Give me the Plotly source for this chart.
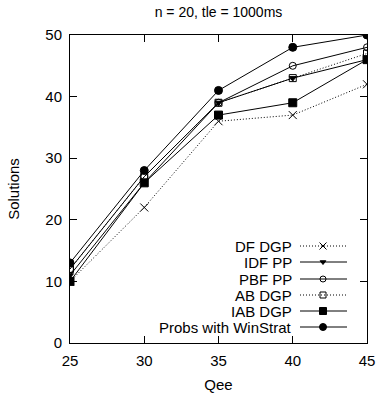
import plotly.graph_objects as go

qee = [25, 30, 35, 40, 45]
df_dgp = [10, 22, 36, 37, 42]
idf_pp = [11, 26, 39, 43, 46]
pbf_pp = [12, 27, 39, 45, 48]
ab_dgp = [12, 27, 39, 43, 47]
iab_dgp = [10, 26, 37, 39, 46]
winstrat = [13, 28, 41, 48, 50]

names = ["DF DGP", "IDF PP", "PBF PP", "AB DGP", "IAB DGP", "Probs with WinStrat"]
series = [df_dgp, idf_pp, pbf_pp, ab_dgp, iab_dgp, winstrat]
symbols = ["x-thin-open", "triangle-down", "circle-open", "square-open", "square", "circle"]
dashes = ["1px,2px", "solid", "solid", "1px,2px", "solid", "solid"]
sizes = [8, 6, 7, 7, 8, 8]

L, R, T, B = 70, 11, 35, 50
W, H = 378, 393
pw, ph = W - L - R, H - T - B

fig = go.Figure()
font = "Liberation Sans, Arial, sans-serif"
FS = 15

for nm, ys, sym, ds, sz in zip(names, series, symbols, dashes, sizes):
    fig.add_trace(go.Scatter(
        x=qee, y=ys, mode="lines+markers", name=nm, showlegend=False,
        line=dict(color="black", width=1, dash=ds),
        marker=dict(symbol=sym, size=sz, color="black",
                    line=dict(color="black", width=1)),
    ))

# gnuplot-style legend on an overlay axis
row_px = [246, 262, 279, 295, 311, 327]
for nm, sym, ds, sz, rp in zip(names, symbols, dashes, sizes, row_px):
    yy = (H - B - rp) / ph
    x0 = (300 - L) / pw
    x1 = (347 - L) / pw
    xm = (323 - L) / pw
    fig.add_trace(go.Scatter(
        x=[x0, x1], y=[yy, yy], mode="lines", xaxis="x2", yaxis="y2",
        showlegend=False, hoverinfo="skip",
        line=dict(color="black", width=1, dash=ds)))
    fig.add_trace(go.Scatter(
        x=[xm], y=[yy], mode="markers", xaxis="x2", yaxis="y2",
        showlegend=False, hoverinfo="skip",
        marker=dict(symbol=sym, size=sz - 1, color="black",
                    line=dict(color="black", width=1))))
    fig.add_annotation(x=(294 - L) / pw, y=yy, xref="paper", yref="paper",
                       text=nm, showarrow=False, xanchor="right", yanchor="middle",
                       font=dict(family=font, size=FS, color="black"))

axis_common = dict(showgrid=False, zeroline=False, showline=True, linecolor="black",
                   linewidth=1, mirror="allticks", ticks="inside", ticklen=7,
                   tickcolor="black", ticklabelstandoff=4, automargin=False,
                   tickfont=dict(family=font, size=FS, color="black"))

fig.update_layout(
    width=W, height=H, margin=dict(l=L, r=R, t=T, b=B),
    plot_bgcolor="white", paper_bgcolor="white",
    title=dict(text="n = 20, tle = 1000ms", x=(L + pw / 2) / W, xanchor="center",
               y=1 - 12 / H, yanchor="middle",
               font=dict(family=font, size=14, color="black")),
    xaxis=dict(range=[25, 45], tickvals=qee, title=dict(text="Qee", standoff=13,
               font=dict(family=font, size=FS, color="black")), **axis_common),
    yaxis=dict(range=[0, 50], tickvals=[0, 10, 20, 30, 40, 50],
               title=dict(text="Solutions", standoff=22,
               font=dict(family=font, size=FS, color="black")), **axis_common),
    xaxis2=dict(range=[0, 1], overlaying="x", visible=False),
    yaxis2=dict(range=[0, 1], overlaying="y", visible=False),
    showlegend=False,
)

fig.write_html("out.html")
